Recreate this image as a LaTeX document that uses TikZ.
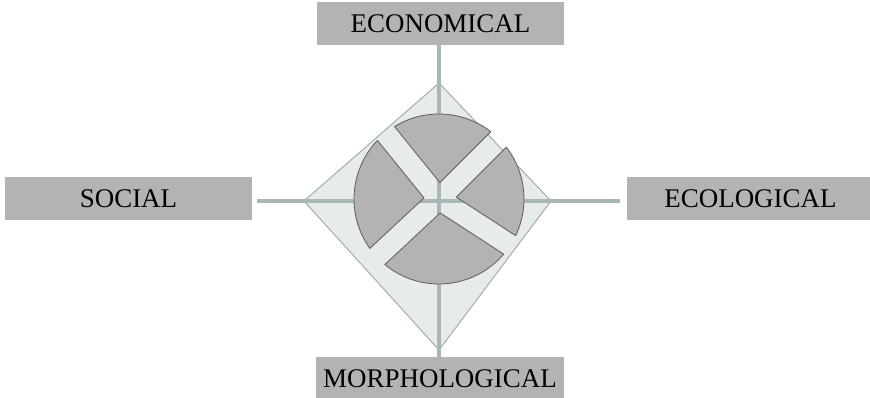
\documentclass[tikz,border=0pt]{standalone}
\usepackage{fontspec}
\setmainfont{Liberation Serif}
\usepackage{xcolor}
\usepackage{tikz}
\usetikzlibrary{calc}
\definecolor{boxgray}{HTML}{B3B3B3}
\definecolor{axisgray}{HTML}{A6B6B9}
\definecolor{kitefill}{HTML}{E7ECEA}
\definecolor{kiteline}{HTML}{A3B1B1}
\definecolor{edgegray}{HTML}{5E5E5E}
\tikzset{
  dimbox/.style={rectangle,fill=boxgray,minimum width=7.41cm,minimum height=1.29cm,inner sep=0pt,align=center,font=\fontsize{23}{26}\selectfont},
  axis/.style={line width=3.2pt,draw=axisgray},
  sector/.style={fill=boxgray,draw=edgegray,line width=0.7pt,line join=round}
}

\begin{document}
\begin{tikzpicture}[x=0.03cm,y=0.03cm,
  kite/.style={fill=kitefill,draw=kiteline,line width=0.9pt}
]
  \useasboundingbox (-439,-197) rectangle (431,201);
  \coordinate (o) at (0,0);
  \coordinate (c) at (0,2);

  \node[dimbox] (eco) at (1.5,177.5) {ECONOMICAL};
  \node[dimbox] (soc) at (-310.5,2) {SOCIAL};
  \node[dimbox] (ecl) at (311.5,2) {ECOLOGICAL};
  \node[dimbox] (mor) at (1,-177.5) {MORPHOLOGICAL};

  \coordinate (kt) at (0,118);
  \coordinate (kr) at (112,0);
  \coordinate (kb) at (0,-149);
  \coordinate (kl) at (-135,0);
  \filldraw[kite] (kt) -- (kr) -- (kb) -- (kl) -- cycle;

  \draw[axis] (eco.south -| o) -- (mor.north -| o);
  \draw[axis,shorten <=0.15cm,shorten >=0.21cm] (soc.east |- o) -- (ecl.west |- o);

  % four sectors cut by the bands
  \foreach \a/\b in {45/129,129/223,223/327,-33/45}
    \filldraw[sector] ($(c)+({(\a+\b)/2}:{11/sin((\b-\a)/2)})$) -- ($(c)+({\a+7.44}:85)$)
      arc[start angle={\a+7.44},end angle={\b-7.44},radius=85] -- cycle;
\end{tikzpicture}
\end{document}
